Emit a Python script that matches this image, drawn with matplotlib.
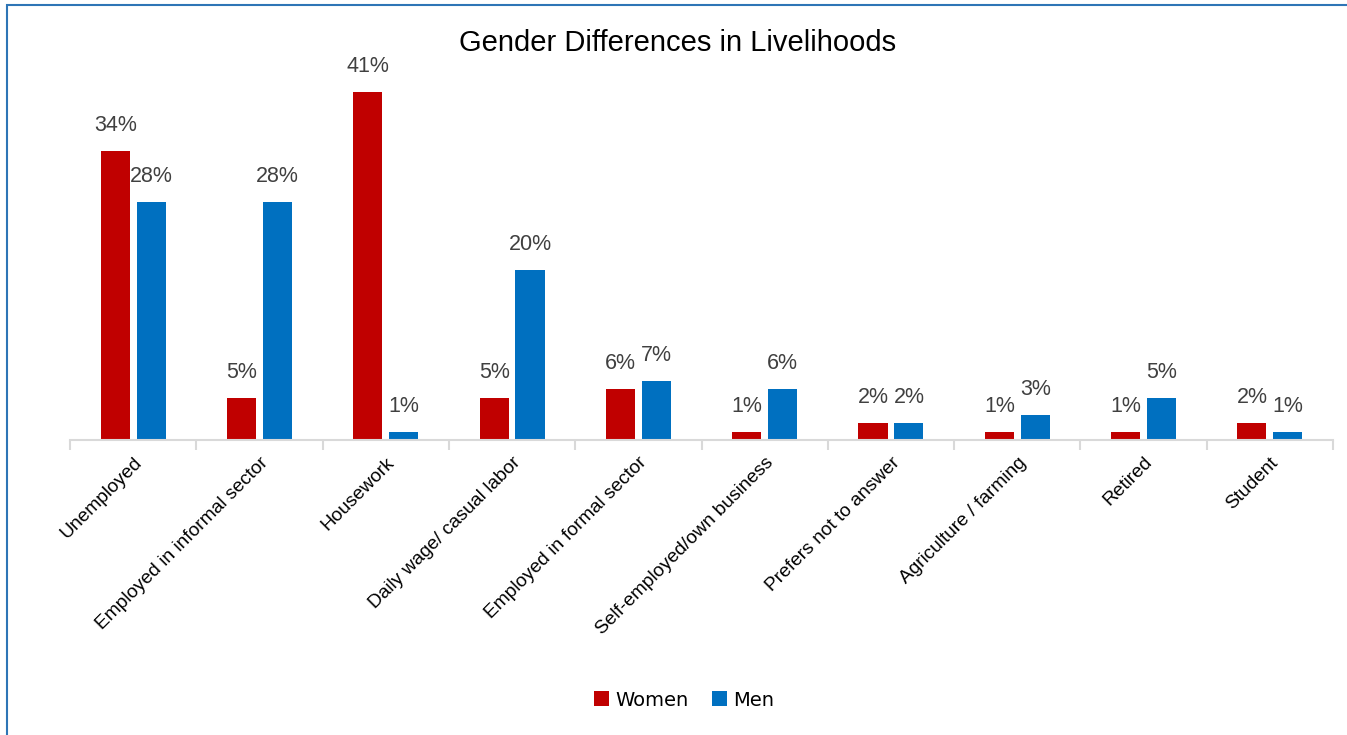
import matplotlib.pyplot as plt
import numpy as np
from matplotlib.patches import Rectangle

CATEGORIES = [
    "Unemployed",
    "Employed in informal sector",
    "Housework",
    "Daily wage/ casual labor",
    "Employed in formal sector",
    "Self-employed/own business",
    "Prefers not to answer",
    "Agriculture / farming",
    "Retired",
    "Student",
]
WOMEN = [34, 5, 41, 5, 6, 1, 2, 1, 1, 2]
MEN = [28, 28, 1, 20, 7, 6, 2, 3, 5, 1]

RED = "#C00000"
BLUE = "#0070C0"
LABEL_GRAY = "#404040"
AXIS_GRAY = "#D9D9D9"

W, H = 1347, 735
fig = plt.figure(figsize=(W / 100, H / 100), dpi=100)

# frame around the chart (left and top visible in the reference)
fig.patches.append(
    Rectangle((7 / W, -0.1), 1.2, 1 - 5 / H + 0.1, transform=fig.transFigure,
              fill=False, edgecolor="#2E75B6", linewidth=1.5)
)

ax = fig.add_axes([70 / W, 1 - 440 / H, 1263 / W, (440 - 57.5) / H])
ymax = 45
ax.set_ylim(0, ymax)
ax.set_xlim(-0.5, len(CATEGORIES) - 0.5)

x = np.arange(len(CATEGORIES))
bw = 0.23
off = 0.142
b1 = ax.bar(x - off, WOMEN, bw, color=RED, label="Women")
b2 = ax.bar(x + off, MEN, bw, color=BLUE, label="Men")

for bars, vals in ((b1, WOMEN), (b2, MEN)):
    for rect, v in zip(bars, vals):
        ax.annotate(f"{v}%", (rect.get_x() + rect.get_width() / 2, rect.get_height()),
                    xytext=(0, 10.5), textcoords="offset points", ha="center", va="bottom",
                    fontsize=15.5, color=LABEL_GRAY, family="Liberation Sans")

for s in ("top", "right", "left"):
    ax.spines[s].set_visible(False)
ax.spines["bottom"].set_color(AXIS_GRAY)
ax.spines["bottom"].set_linewidth(1.5)
ax.set_yticks([])

ax.set_xticks(np.arange(len(CATEGORIES) + 1) - 0.5, minor=False)
ax.set_xticklabels([])
ax.tick_params(axis="x", which="major", length=7, width=1.5, color=AXIS_GRAY)
ax.set_xticks(x, minor=True)
ax.set_xticklabels(CATEGORIES, minor=True, rotation=45, ha="right",
                   rotation_mode="anchor", fontsize=13.8, family="Liberation Sans")
ax.tick_params(axis="x", which="minor", length=0, pad=10)

fig.text(678 / W, 1 - 43 / H, "Gender Differences in Livelihoods", ha="center",
         va="center", fontsize=21, family="Liberation Sans", color="black")

fig.legend(handles=[b1, b2], loc="center", bbox_to_anchor=(684 / W, 1 - 700 / H),
           ncol=2, frameon=False, handlelength=0.8, handleheight=0.8,
           handletextpad=0.3, columnspacing=1.2, prop={"family": "DejaVu Sans", "size": 14})

fig.savefig("out.png", dpi=100)
